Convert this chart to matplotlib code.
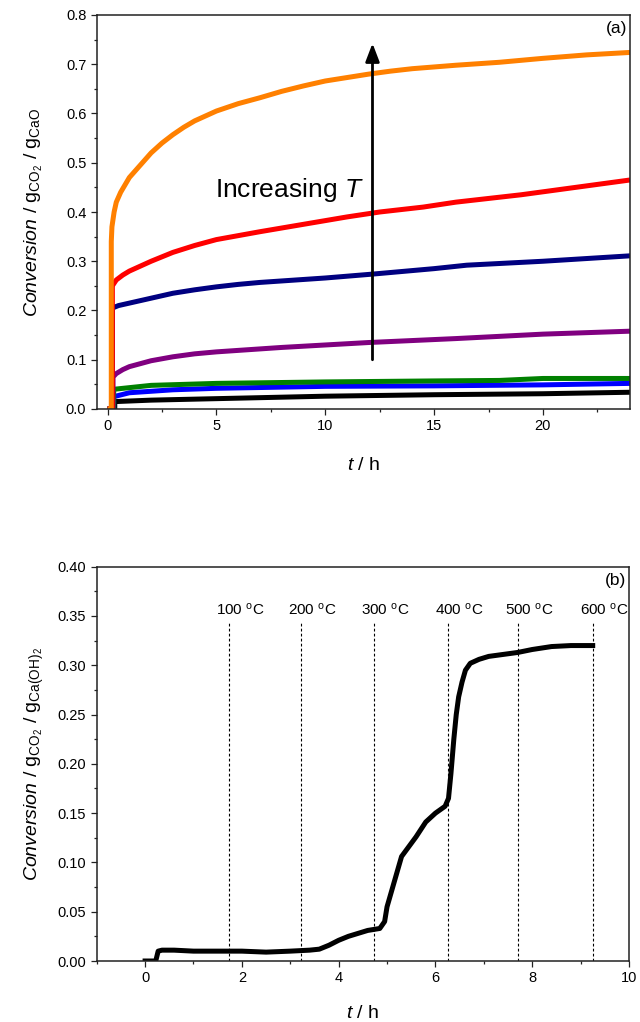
import numpy as np
import matplotlib
matplotlib.use("Agg")
import matplotlib.pyplot as plt
from matplotlib.ticker import MultipleLocator, FormatStrFormatter

plt.rcParams['font.family'] = ['Liberation Sans', 'DejaVu Sans']
plt.rcParams['mathtext.fontset'] = 'custom'
plt.rcParams['mathtext.rm'] = 'Liberation Sans'
plt.rcParams['mathtext.it'] = 'Liberation Sans:italic'
plt.rcParams['mathtext.bf'] = 'Liberation Sans:bold'

# (a) isothermal carbonation runs, conversion vs time (h)
t_orange = [0, 0.17, 0.17, 0.2, 0.3, 0.4, 0.6, 0.8, 1.0, 1.5, 2.0, 2.5, 3.0, 3.5, 4.0, 5.0, 6.0,
            7.0, 8.0, 9.0, 10, 11, 12, 13, 14, 16, 18, 20, 22, 24]
y_orange = [0, 0, 0.34, 0.37, 0.40, 0.42, 0.44, 0.455, 0.47, 0.495, 0.52, 0.54, 0.557, 0.572,
            0.585, 0.605, 0.62, 0.632, 0.645, 0.656, 0.666, 0.673, 0.68, 0.686, 0.691, 0.698,
            0.704, 0.712, 0.719, 0.724]

t_red = [0, 0.22, 0.22, 0.4, 0.7, 1.0, 1.5, 2, 3, 4, 5, 6, 7, 9, 11, 12.5, 14.5, 16, 19, 21.5, 24]
y_red = [0, 0, 0.25, 0.262, 0.272, 0.28, 0.29, 0.30, 0.318, 0.332, 0.344, 0.352, 0.36, 0.375,
         0.39, 0.40, 0.41, 0.42, 0.435, 0.45, 0.465]

t_navy = [0, 0.22, 0.22, 0.5, 1, 2, 3, 4, 5, 6, 7, 10, 12.2, 15, 16.5, 20, 24]
y_navy = [0, 0, 0.205, 0.21, 0.215, 0.225, 0.235, 0.242, 0.248, 0.253, 0.257, 0.266, 0.274,
          0.285, 0.292, 0.30, 0.311]

t_purple = [0, 0.25, 0.25, 0.4, 0.7, 1, 1.5, 2, 3, 4, 5, 6, 8, 12, 16, 20, 24]
y_purple = [0, 0, 0.065, 0.072, 0.08, 0.086, 0.092, 0.098, 0.106, 0.112, 0.116, 0.119, 0.125,
            0.135, 0.143, 0.152, 0.158]

t_green = [0, 0.28, 0.28, 2, 5, 10, 15, 18, 20, 24]
y_green = [0, 0, 0.04, 0.048, 0.052, 0.055, 0.057, 0.058, 0.062, 0.062]

t_blue = [0, 0.28, 0.28, 1, 3, 5, 10, 15, 20, 24]
y_blue = [0, 0, 0.025, 0.033, 0.039, 0.042, 0.046, 0.047, 0.049, 0.052]

t_black = [0, 0.33, 0.33, 2, 5, 10, 15, 20, 24]
y_black = [0, 0, 0.015, 0.018, 0.021, 0.026, 0.029, 0.031, 0.034]

series_a = [
    (t_black, y_black, 'black'),
    (t_blue, y_blue, '#0000FF'),
    (t_green, y_green, '#008000'),
    (t_purple, y_purple, '#800080'),
    (t_navy, y_navy, '#000080'),
    (t_red, y_red, '#FF0000'),
    (t_orange, y_orange, '#FF8000'),
]

# (b) temperature-programmed run
t_ramp = [0, 0.22, 0.27, 0.35, 0.6, 1.0, 1.5, 2.0, 2.5, 3.0, 3.4, 3.6, 3.8, 4.0, 4.2, 4.4, 4.6,
          4.85, 4.95, 5.0, 5.1, 5.2, 5.3, 5.45, 5.6, 5.8, 6.0, 6.2, 6.27, 6.32, 6.38, 6.43,
          6.48, 6.55, 6.62, 6.72, 6.9, 7.1, 7.4, 7.7, 8.0, 8.4, 8.8, 9.25]
y_ramp = [0, 0, 0.01, 0.011, 0.011, 0.010, 0.010, 0.010, 0.009, 0.010, 0.011, 0.012, 0.016, 0.021,
          0.025, 0.028, 0.031, 0.033, 0.040, 0.055, 0.072, 0.089, 0.106, 0.116, 0.126, 0.141,
          0.150, 0.157, 0.165, 0.19, 0.225, 0.25, 0.268, 0.283, 0.295, 0.302, 0.306, 0.309,
          0.311, 0.313, 0.316, 0.319, 0.320, 0.320]
step_times = [1.74, 3.22, 4.73, 6.25, 7.70, 9.26]
step_labels = ['100 $^{\\mathrm{o}}$C', '200 $^{\\mathrm{o}}$C', '300 $^{\\mathrm{o}}$C',
               '400 $^{\\mathrm{o}}$C', '500 $^{\\mathrm{o}}$C', '600 $^{\\mathrm{o}}$C']

W, H = 640, 1022
fig = plt.figure(figsize=(W / 100, H / 100), dpi=100)
ax1 = fig.add_axes([96.7 / W, 1 - 409 / H, (630 - 96.7) / W, (409 - 15) / H])
ax2 = fig.add_axes([96.7 / W, 1 - 961 / H, (629 - 96.7) / W, (961 - 566.7) / H])


def style_axes(ax):
    for sp in ax.spines.values():
        sp.set_linewidth(1.1)
        sp.set_color('#222222')
    ax.tick_params(which='both', direction='out', top=False, right=False,
                   labelsize=10.5, width=0.9, color='#222222')
    ax.tick_params(which='major', length=4.5, pad=3)
    ax.tick_params(which='minor', length=2.5)


for t, y, c in series_a:
    ax1.plot(t, y, color=c, lw=3.6, solid_capstyle='butt')
ax1.set_xlim(-0.5, 24)
ax1.set_ylim(0, 0.8)
ax1.xaxis.set_major_locator(MultipleLocator(5))
ax1.xaxis.set_minor_locator(MultipleLocator(2.5))
ax1.yaxis.set_major_locator(MultipleLocator(0.1))
ax1.yaxis.set_minor_locator(MultipleLocator(0.05))
ax1.yaxis.set_major_formatter(FormatStrFormatter('%.1f'))
style_axes(ax1)
ax1.set_xlabel(r'$\mathit{t}$ / h', fontsize=14, labelpad=17)
ax1.set_ylabel(r'$\mathit{Conversion}$ / g$_{\mathrm{CO}_{2}}$ / g$_{\mathrm{CaO}}$',
               fontsize=14, labelpad=15)
ax1.annotate('', xy=(12.17, 0.7425), xytext=(12.17, 0.1),
             arrowprops=dict(arrowstyle='-|>,head_length=1.1,head_width=0.42',
                             color='black', lw=2.0, shrinkA=0, shrinkB=0))
ax1.text(4.94, 0.43, r'Increasing $\mathit{T}$', fontsize=19, ha='left', va='baseline')
ax1.text(0.995, 0.985, '(a)', transform=ax1.transAxes, ha='right', va='top', fontsize=12.5)

ax2.plot(t_ramp, y_ramp, color='black', lw=3.6, solid_joinstyle='round')
for x, lab in zip(step_times, step_labels):
    ax2.plot([x, x], [0, 0.344], color='black', lw=0.8, linestyle=(0, (2.5, 2)))
    ax2.annotate(lab, xy=(x, 0.351), xytext=(-13, 0), textcoords='offset pixels',
                 ha='left', va='baseline', fontsize=11)
ax2.set_xlim(-1, 10)
ax2.set_ylim(0, 0.4)
ax2.xaxis.set_major_locator(MultipleLocator(2))
ax2.xaxis.set_minor_locator(MultipleLocator(1))
ax2.yaxis.set_major_locator(MultipleLocator(0.05))
ax2.yaxis.set_minor_locator(MultipleLocator(0.025))
ax2.yaxis.set_major_formatter(FormatStrFormatter('%.2f'))
style_axes(ax2)
ax2.set_xlabel(r'$\mathit{t}$ / h', fontsize=14, labelpad=14)
ax2.set_ylabel(r'$\mathit{Conversion}$ / g$_{\mathrm{CO}_{2}}$ / g$_{\mathrm{Ca(OH)}_{2}}$',
               fontsize=14, labelpad=8)
ax2.text(0.995, 0.985, '(b)', transform=ax2.transAxes, ha='right', va='top', fontsize=12.5)

fig.savefig('out.png', dpi=100)
